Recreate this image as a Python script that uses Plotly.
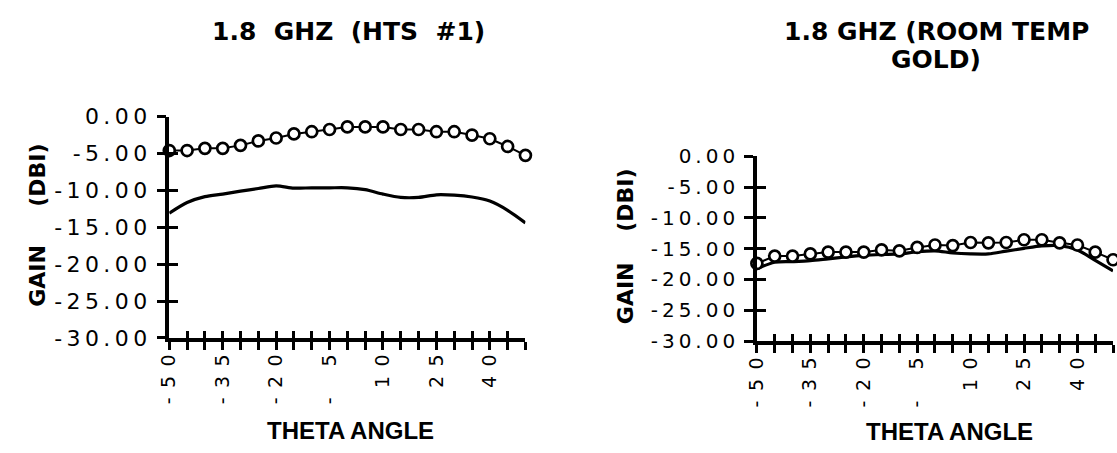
import plotly.graph_objects as go

# ---------------- data ----------------
THETA = [-50, -45, -40, -35, -30, -25, -20, -15, -10, -5, 0, 5, 10, 15, 20, 25, 30, 35, 40, 45, 50]

HTS_CIRCLES = [-4.6, -4.6, -4.3, -4.3, -3.9, -3.3, -2.9, -2.35, -2.05, -1.75, -1.4,
               -1.4, -1.4, -1.75, -1.75, -2.05, -2.05, -2.5, -3.0, -4.05, -5.25]
HTS_LINE = [-13.1, -11.65, -10.85, -10.5, -10.1, -9.75, -9.4, -9.7, -9.65, -9.65, -9.65,
            -9.9, -10.5, -10.95, -10.95, -10.6, -10.65, -10.9, -11.45, -12.7, -14.4]

GOLD_CIRCLES = [-17.4, -16.2, -16.2, -15.85, -15.55, -15.55, -15.55, -15.2, -15.35, -14.8, -14.4,
                -14.5, -14.0, -14.05, -14.0, -13.55, -13.55, -14.05, -14.4, -15.55, -16.8]
GOLD_LINE = [-18.25, -17.2, -17.1, -16.95, -16.65, -16.35, -16.1, -15.95, -15.85, -15.5, -15.35,
             -15.7, -15.85, -15.85, -15.4, -14.95, -14.55, -14.5, -15.2, -16.9, -18.6]

Y_TICKS = [0, -5, -10, -15, -20, -25, -30]
X_LABELED = [-50, -35, -20, -5, 10, 25, 40]

TITLE_LEFT = "1.8\u00a0\u00a0GHZ\u00a0\u00a0(HTS\u00a0\u00a0#1)"
TITLE_RIGHT_1 = "1.8 GHZ (ROOM TEMP"
TITLE_RIGHT_2 = "GOLD)"
X_TITLE = "THETA ANGLE"
Y_TITLE_LEFT = "GAIN" + "\u00a0" * 5 + "(DBI)"
Y_TITLE_RIGHT = "GAIN" + "\u00a0" * 4 + "(DBI)"

# ---------------- helpers ----------------
W, H = 1117, 453
THIN = "\u2009"
EN = "\u2002"
FIG = "\u2007"


def fx(p):
    return p / W


def fy(p):
    return 1 - p / H


def y_label(v):
    return THIN.join(f"{v:.2f}")


def x_label(v):
    if v not in X_LABELED:
        return ""
    s = ("-" if v < 0 else FIG) + f"{abs(v):>2d}".replace(" ", FIG)
    return EN.join(s)


X_TEXT = [x_label(v) for v in THETA]
Y_TEXT = [y_label(v) for v in Y_TICKS]

fig = go.Figure()

panels = [
    ("x", "y", "x3", "y3", HTS_CIRCLES, HTS_LINE, (159, 519), (110.7, 345), 22),
    ("x2", "y2", "x4", "y4", GOLD_CIRCLES, GOLD_LINE, (753, 1113), (152.7, 348.3), 20),
]

layout_axes = {}
for mx, my, ox, oy, circ, line, xd, yd, yfs in panels:
    fig.add_trace(go.Scatter(
        x=THETA, y=line, mode="lines", xaxis=mx, yaxis=my, cliponaxis=False,
        line=dict(color="black", width=3.2, shape="spline", smoothing=0.8),
        hoverinfo="skip"))
    fig.add_trace(go.Scatter(
        x=THETA, y=circ, mode="lines+markers", xaxis=ox, yaxis=oy, cliponaxis=False,
        line=dict(color="black", width=2),
        marker=dict(symbol="circle", size=11, color="white",
                    line=dict(color="black", width=2.7)),
        hoverinfo="skip"))

    common = dict(showgrid=False, zeroline=False, tickcolor="black", linecolor="black",
                  tickwidth=2.5)
    xname = "xaxis" + mx[1:]
    yname = "yaxis" + my[1:]
    oxname = "xaxis" + ox[1:]
    oyname = "yaxis" + oy[1:]
    layout_axes[xname] = dict(
        common, domain=[fx(xd[0]), fx(xd[1])], anchor=my, range=[-50, 50],
        showline=True, linewidth=3.5, ticks="outside", ticklen=8,
        tickmode="array", tickvals=THETA, ticktext=X_TEXT, tickangle=-90,
        tickfont=dict(family="DejaVu Sans", size=19, color="black"),
        ticklabelstandoff=-3)
    layout_axes[yname] = dict(
        common, domain=[fy(yd[1]), fy(yd[0])], anchor=mx, range=[-30, 0],
        showline=True, linewidth=3.5, ticks="outside", ticklen=9,
        tickmode="array", tickvals=Y_TICKS, ticktext=Y_TEXT,
        tickfont=dict(family="DejaVu Sans", size=yfs, color="black"),
        ticklabelstandoff=5)
    layout_axes[oxname] = dict(
        common, overlaying=mx, anchor=oy, range=[-50, 50], showline=False,
        ticks="inside", ticklen=7, tickmode="array", tickvals=THETA,
        showticklabels=False)
    layout_axes[oyname] = dict(
        common, overlaying=my, anchor=ox, range=[-30, 0], showline=False,
        ticks="inside", ticklen=9, tickmode="array", tickvals=Y_TICKS,
        showticklabels=False)

fig.update_layout(**layout_axes)


def ann(text, x, y, size, family, angle=0):
    return dict(text=text, x=fx(x), y=fy(y), xref="paper", yref="paper",
                xanchor="center", yanchor="middle", showarrow=False, textangle=angle,
                font=dict(family=family, size=size, color="black", weight="bold"))


annotations = [
    ann(TITLE_LEFT, 340, 21, 25, "DejaVu Sans"),
    ann(TITLE_RIGHT_1, 935, 21, 25, "DejaVu Sans"),
    ann(TITLE_RIGHT_2, 934.5, 50, 25, "DejaVu Sans"),
    ann(X_TITLE, 342, 443, 24, "Liberation Sans"),
    ann(X_TITLE, 947.5, 444, 24, "Liberation Sans"),
    ann(Y_TITLE_LEFT, 25.5, 226, 22, "DejaVu Sans", angle=-90),
    ann(Y_TITLE_RIGHT, 619.5, 248, 22, "DejaVu Sans", angle=-90),
]

fig.update_layout(
    width=W, height=H, autosize=False,
    margin=dict(l=0, r=0, t=0, b=0),
    paper_bgcolor="white", plot_bgcolor="rgba(0,0,0,0)",
    showlegend=False,
    annotations=annotations,
)

POST = (
    "document.documentElement.style.margin='0';"
    "document.documentElement.style.padding='0';"
    "document.documentElement.style.overflow='hidden';"
    "document.body.style.margin='0';document.body.style.padding='0';"
    "document.body.style.overflow='hidden';"
    "var gd=document.getElementById('{plot_id}');"
    "gd.style.position='fixed';gd.style.left='0px';gd.style.top='0px';"
)

fig.write_html(
    "out.html",
    config={"displayModeBar": False, "responsive": False},
    post_script=POST,
)
